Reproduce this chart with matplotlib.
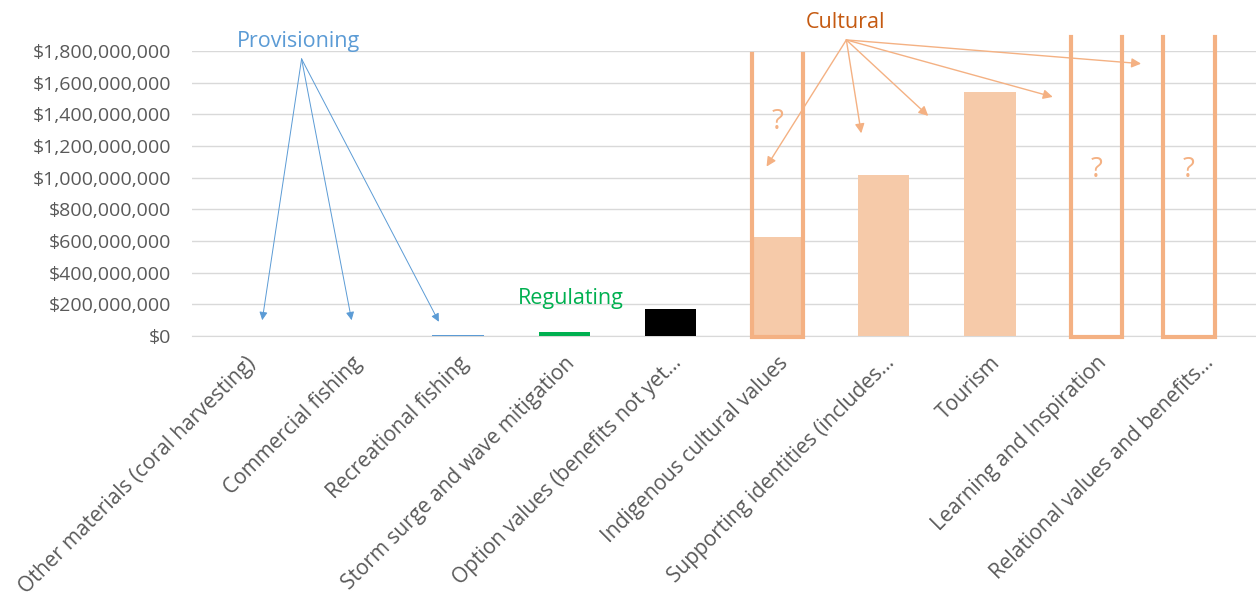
import matplotlib.pyplot as plt
from matplotlib.ticker import FuncFormatter

# categories and values (USD)
categories = [
    "Other materials (coral harvesting)",
    "Commercial fishing",
    "Recreational fishing",
    "Storm surge and wave mitigation",
    "Option values (benefits not yet\u2026",
    "Indigenous cultural values",
    "Supporting identities (includes\u2026",
    "Tourism",
    "Learning and Inspiration",
    "Relational values and benefits\u2026",
]
values = [0, 3e6, 7e6, 27e6, 170e6, 625e6, 1015e6, 1540e6, 0, 0]
bar_colors = ["#5b9bd5", "#d6dce5", "#5b9bd5", "#00b050", "#000000",
              "#f6caa9", "#f6caa9", "#f6caa9", "#f6caa9", "#f6caa9"]

# open-ended (unknown) values: outline box position, top and "?" height
unknown_pos = [5, 8, 8.87]
unknown_top = [1.78e9, 1.89e9, 1.89e9]
qmark_y = [1.35e9, 1.05e9, 1.05e9]

group_labels = ["Provisioning", "Regulating", "Cultural"]
group_colors = ["#5b9bd5", "#00b050", "#c55a11"]
arrow_colors = ["#5b9bd5", None, "#f4b183"]

plt.rcParams['font.family'] = ['Open Sans', 'DejaVu Sans']

fig = plt.figure(figsize=(12.56, 6.0), dpi=100)
ax = fig.add_axes([192 / 1256, 1 - 336 / 600, 1 - 192 / 1256, (336 - 51) / 600])

x = list(range(len(categories)))
ax.bar(x, values, width=0.48, color=bar_colors, zorder=3)

ax.set_xlim(-0.5, len(categories) - 0.5)
ax.set_ylim(0, 1.8e9)
ax.set_yticks([i * 2e8 for i in range(10)])
ax.yaxis.set_major_formatter(FuncFormatter(lambda v, p: "${:,.0f}".format(v)))
ax.grid(axis="y", color="#d9d9d9", lw=1, zorder=0)
for s in ["left", "right", "top"]:
    ax.spines[s].set_visible(False)
ax.spines["bottom"].set_color("#d9d9d9")
ax.tick_params(axis="both", length=0, labelcolor="#595959")
ax.tick_params(axis="y", pad=15, labelsize=14)
ax.set_xticks(x)
ax.set_xticklabels(categories, rotation=45, ha="right", rotation_mode="anchor")
ax.tick_params(axis="x", pad=12, labelsize=15)

# open-ended outline boxes with question marks
hw = 0.24
for p, top, qy in zip(unknown_pos, unknown_top, qmark_y):
    ax.plot([p - hw, p - hw, p + hw, p + hw], [top, -0.005e9, -0.005e9, top],
            color="#f4b183", lw=3, clip_on=False, zorder=4, solid_joinstyle="miter")
    ax.text(p, qy, "?", color="#f4b183", fontsize=20, ha="center", va="center", zorder=5)

# group labels and arrows
ax.text(0.5, 1.86e9, group_labels[0], color=group_colors[0], fontsize=15.5,
        ha="center", va="center", clip_on=False)
ax.text(3.06, 0.24e9, group_labels[1], color=group_colors[1], fontsize=15.5,
        ha="center", va="center")
ax.text(5.64, 1.98e9, group_labels[2], color=group_colors[2], fontsize=15.5,
        ha="center", va="center", clip_on=False)

prov_src = (0.53, 1.75e9)
prov_dst = [(0.16, 0.10e9), (1.0, 0.10e9), (1.82, 0.09e9)]
for d in prov_dst:
    ax.annotate("", xy=d, xytext=prov_src, annotation_clip=False,
                arrowprops=dict(arrowstyle="-|>", color=arrow_colors[0], lw=0.7,
                                mutation_scale=12, shrinkA=0, shrinkB=0), zorder=6)

cult_src = (5.65, 1.87e9)
cult_dst = [(4.9, 1.07e9), (5.79, 1.28e9), (6.42, 1.39e9), (7.59, 1.51e9), (8.42, 1.72e9)]
for d in cult_dst:
    ax.annotate("", xy=d, xytext=cult_src, annotation_clip=False,
                arrowprops=dict(arrowstyle="-|>", color=arrow_colors[2], lw=1.0,
                                mutation_scale=14, shrinkA=0, shrinkB=0), zorder=6)

fig.savefig("out.png", dpi=100)
